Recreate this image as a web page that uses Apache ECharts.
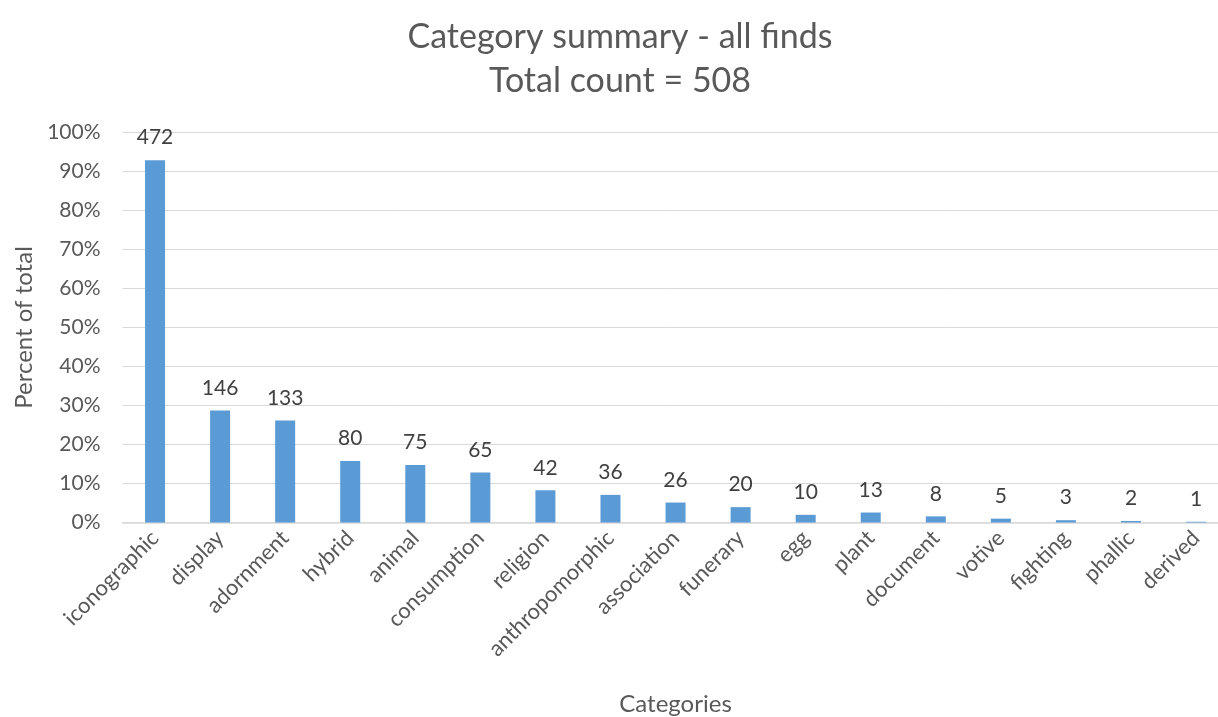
<!DOCTYPE html>
<html>
<head>
<meta charset="utf-8">
<script src="https://cdn.jsdelivr.net/npm/echarts@6/dist/echarts.min.js"></script>
<style>
  html, body { margin: 0; padding: 0; background: #fff; }
  #chart { width: 1218px; height: 717px; }
</style>
</head>
<body>
<div id="chart"></div>
<script>
// Finds grouped by category; each find may belong to several categories.
const categories = ['iconographic', 'display', 'adornment', 'hybrid', 'animal', 'consumption',
  'religion', 'anthropomorphic', 'association', 'funerary', 'egg', 'plant', 'document',
  'votive', 'fighting', 'phallic', 'derived'];
const counts = [472, 146, 133, 80, 75, 65, 42, 36, 26, 20, 10, 13, 8, 5, 3, 2, 1];
const totalFinds = 508;
const percentTicks = [0, 10, 20, 30, 40, 50, 60, 70, 80, 90, 100];

// Bar height is the share of all finds; the label shows the raw count.
const shares = counts.map(c => ({ value: c / totalFinds * 100, count: c }));

const font = 'Lato, "Noto Sans", sans-serif';
const chart = echarts.init(document.getElementById('chart'));
chart.setOption({
  animation: false,
  textStyle: { fontFamily: font },
  title: {
    text: 'Category summary - all finds\nTotal count = ' + totalFinds,
    left: 615, top: 10, textAlign: 'center',
    textStyle: { fontFamily: font, fontSize: 34, fontWeight: 'normal', color: '#595959', lineHeight: 44 }
  },
  grid: { left: 122.5, right: -10.6, top: 132.5, bottom: 194.5, containLabel: false, outerBoundsMode: 'none' },
  xAxis: {
    type: 'category',
    data: categories,
    name: 'Categories',
    nameLocation: 'middle',
    nameGap: 170,
    nameTextStyle: { fontFamily: font, fontSize: 24, color: '#595959' },
    axisLine: { lineStyle: { color: '#D9D9D9', width: 1.5 } },
    axisTick: { show: false },
    axisLabel: { rotate: 45, fontFamily: font, fontSize: 22, color: '#595959', margin: 12, interval: 0 }
  },
  yAxis: {
    type: 'value',
    min: percentTicks[0],
    max: percentTicks[percentTicks.length - 1],
    interval: 10,
    name: 'Percent of total',
    nameLocation: 'middle',
    nameGap: 86,
    nameTextStyle: { fontFamily: font, fontSize: 24, color: '#595959' },
    axisLine: { show: false },
    axisTick: { show: false },
    splitLine: { lineStyle: { color: '#D9D9D9', width: 1 } },
    axisLabel: { formatter: '{value}%', fontFamily: font, fontSize: 21, color: '#595959', margin: 22 }
  },
  series: [{
    type: 'bar',
    data: shares,
    barWidth: 20,
    itemStyle: { color: '#5B9BD5' },
    label: {
      show: true,
      position: 'top',
      distance: 12,
      formatter: p => p.data.count,
      fontFamily: font, fontSize: 21, color: '#404040'
    }
  }]
});
</script>
</body>
</html>
